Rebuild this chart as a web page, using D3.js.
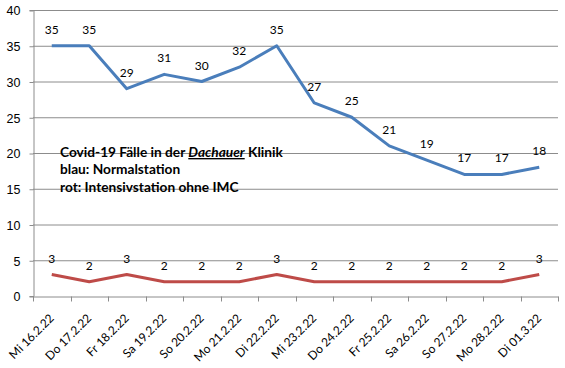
<!DOCTYPE html>
<html><head><meta charset="utf-8">
<script src="https://cdn.jsdelivr.net/npm/d3@7"></script>
<style>body{margin:0;background:#fff}svg{display:block;font-family:Lato,"Liberation Sans",sans-serif}</style>
</head><body><svg id="c" width="565" height="368"></svg>
<script>
const categories = ["Mi 16.2.22","Do 17.2.22","Fr 18.2.22","Sa 19.2.22","So 20.2.22","Mo 21.2.22","Di 22.2.22","Mi 23.2.22","Do 24.2.22","Fr 25.2.22","Sa 26.2.22","So 27.2.22","Mo 28.2.22","Di 01.3.22"];
const normalstation = [35,35,29,31,30,32,35,27,25,21,19,17,17,18];
const intensivstation = [3,2,3,2,2,2,3,2,2,2,2,2,2,3];
const yTicks = [0,5,10,15,20,25,30,35,40];

const svg = d3.select("#c");
const L = 33, R = 558, T = 10, B = 296;
const x = d3.scaleBand().domain(categories).range([L, R]);
const y = d3.scaleLinear().domain([0, 40]).range([B, T]);

// gridlines
svg.append("g").selectAll("line").data(yTicks.filter(d => d > 0)).join("line")
  .attr("x1", L).attr("x2", R).attr("y1", d => y(d) + 0.5).attr("y2", d => y(d) + 0.5)
  .attr("stroke", "#8c8c8c").attr("stroke-width", 1);

// y axis
const ya = svg.append("g").attr("transform", `translate(${L + 0.5},0)`)
  .call(d3.axisLeft(y).tickValues(yTicks).tickSize(4).tickPadding(9));
ya.select(".domain").attr("stroke", "#8c8c8c");
ya.selectAll(".tick line").attr("stroke", "#8c8c8c").attr("transform", "translate(0,0.5)");
ya.selectAll("text").attr("font-size", 12.5).attr("fill", "#000").attr("dy", "0.35em").attr("y", 0.5);

// x axis
const xa = svg.append("g").attr("transform", `translate(0,${B + 0.5})`)
  .call(d3.axisBottom(x).tickSize(0).tickFormat(""));
xa.select(".domain").attr("stroke", "#8c8c8c");
xa.selectAll(".tick").remove();
const bounds = categories.map(c => x(c)).concat([R]);
xa.selectAll("line.tk").data(bounds).join("line").attr("class","tk")
  .attr("x1", d => Math.round(d) + 0.5).attr("x2", d => Math.round(d) + 0.5)
  .attr("y1", 0).attr("y2", 5).attr("stroke", "#8c8c8c");
svg.append("g").selectAll("text").data(categories).join("text")
  .attr("transform", d => `translate(${x(d) + x.bandwidth()/2 + 3},${B + 23}) rotate(-45)`)
  .attr("text-anchor", "end").attr("font-size", 12).attr("fill", "#000").text(d => d);

const line = d3.line().x((d, i) => x(categories[i]) + x.bandwidth()/2).y(d => y(d));
function series(data, color) {
  svg.append("path").datum(data).attr("d", line).attr("fill", "none")
    .attr("stroke", color).attr("stroke-width", 3).attr("stroke-linejoin", "round");
  svg.append("g").selectAll("text").data(data).join("text")
    .attr("x", (d, i) => x(categories[i]) + x.bandwidth()/2)
    .attr("y", d => y(d) - 12)
    .attr("text-anchor", "middle").attr("font-size", 12).attr("fill", "#000").text(d => d);
}
series(normalstation, "#4a7ebb");
series(intensivstation, "#be4b48");

// annotation
const ann = svg.append("text").attr("x", 60).attr("font-size", 13.7).attr("font-weight", "bold").attr("fill", "#000");
const l1 = ann.append("tspan").attr("x", 60).attr("y", 157);
l1.append("tspan").text("Covid-19 Fälle in der ");
l1.append("tspan").attr("font-style", "italic").attr("text-decoration", "underline").text("Dachauer");
l1.append("tspan").text(" Klinik");
ann.append("tspan").attr("x", 60).attr("y", 174).text("blau: Normalstation");
ann.append("tspan").attr("x", 60).attr("y", 192).text("rot: Intensivstation ohne IMC");
</script></body></html>
